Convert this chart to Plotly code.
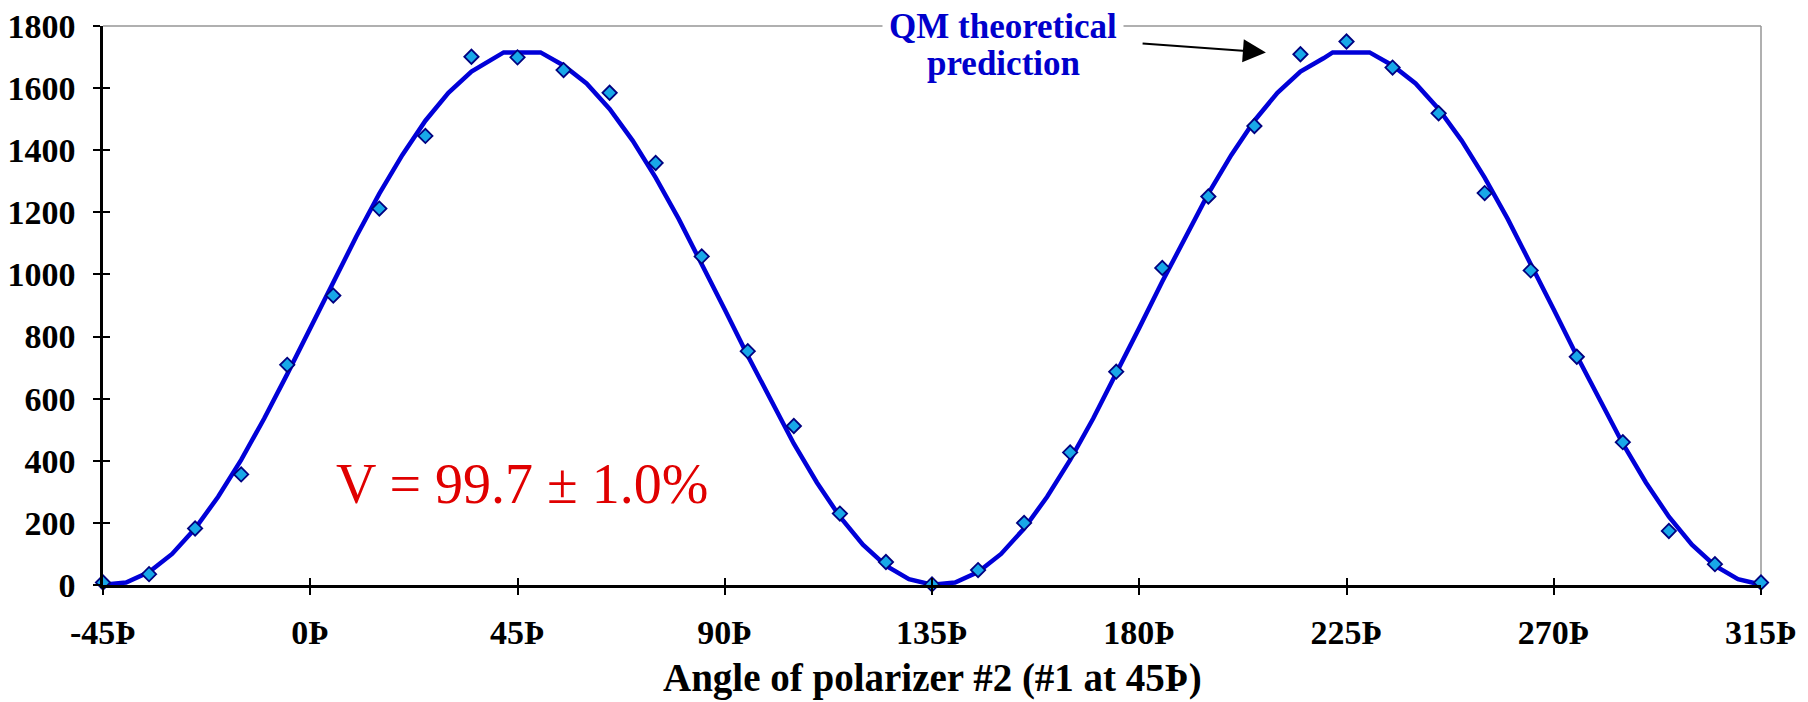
import plotly.graph_objects as go

# Measured coincidence counts (every 10 degrees)
angles = [-45, -35, -25, -15, -5, 5, 15, 25, 35, 45, 55, 65, 75, 85, 95, 105, 115, 125,
          135, 145, 155, 165, 175, 185, 195, 205, 215, 225, 235, 245, 255, 265, 275, 285,
          295, 305, 315]
counts = [8, 35, 182, 356, 709, 932, 1212, 1446, 1701, 1699, 1658, 1585, 1359, 1058, 753,
          512, 230, 74, 2, 48, 200, 427, 687, 1021, 1251, 1478, 1709, 1750, 1666, 1519,
          1262, 1013, 735, 460, 174, 67, 8]

# QM theoretical prediction curve (vertices)
theory_angles = [-45, -40, -35, -30, -25, -20, -15, -10, -5, 0, 5, 10, 15, 20, 25, 30, 35,
                 40, 42, 50, 55, 60, 65, 70, 75, 80, 85, 90, 95, 100, 105, 110, 115, 120,
                 125, 130, 135, 140, 145, 150, 155, 160, 165, 170, 175, 180, 185, 190, 195,
                 200, 205, 210, 215, 220, 222, 230, 235, 240, 245, 250, 255, 260, 265, 270,
                 275, 280, 285, 290, 295, 300, 305, 310, 315]
theory_counts = [1, 8, 42, 100, 182, 284, 403, 536, 679, 828, 977, 1122, 1260, 1385, 1495,
                 1585, 1653, 1696, 1715, 1715, 1673, 1615, 1533, 1431, 1312, 1179, 1036,
                 887, 738, 593, 455, 330, 220, 130, 62, 19, 1, 8, 42, 100, 182, 284, 403,
                 536, 679, 828, 977, 1122, 1260, 1385, 1495, 1585, 1653, 1696, 1715, 1715,
                 1673, 1615, 1533, 1431, 1312, 1179, 1036, 887, 738, 593, 455, 330, 220,
                 130, 62, 19, 1]

x_tickvals = [-45, 0, 45, 90, 135, 180, 225, 270, 315]
x_ticktext = ["-45Þ", "0Þ", "45Þ", "90Þ", "135Þ", "180Þ", "225Þ", "270Þ", "315Þ"]
y_tickvals = [0, 200, 400, 600, 800, 1000, 1200, 1400, 1600, 1800]

x_title = "Angle of polarizer #2 (#1 at 45Þ)"
qm_line1 = "QM theoretical"
qm_line2 = "prediction"
visibility_text = "V = 99.7 ± 1.0%"

FONT = "Liberation Serif, Times New Roman, serif"
XR = [-45, 315]
YR = [0, 1800]

fig = go.Figure()
fig.add_trace(go.Scatter(x=theory_angles, y=theory_counts, mode="lines",
                         line=dict(color="#0000D8", width=4.5), hoverinfo="skip",
                         showlegend=False))
fig.add_trace(go.Scatter(x=angles, y=counts, mode="markers",
                         marker=dict(symbol="diamond", size=11, color="#18A8E8",
                                     line=dict(color="#000080", width=1.8)),
                         showlegend=False, cliponaxis=False))
# invisible trace for the overlay axes (inner half of crossing ticks)
fig.add_trace(go.Scatter(x=angles, y=counts, mode="markers", xaxis="x2", yaxis="y2",
                         marker=dict(opacity=0), hoverinfo="skip", showlegend=False))

tickfont = dict(family=FONT, size=34, color="black", weight="bold")
fig.update_layout(
    width=1800, height=694,
    margin=dict(l=95, r=47, t=18, b=117, autoexpand=False),
    paper_bgcolor="white", plot_bgcolor="white",
    xaxis=dict(range=XR, tickvals=x_tickvals, ticktext=x_ticktext, ticks="outside",
               ticklen=7, tickwidth=2, tickcolor="black", showline=True,
               linecolor="black", linewidth=2.5, showgrid=False, zeroline=False,
               tickfont=tickfont, ticklabelstandoff=8, ticklabeloverflow="allow",
               automargin=False),
    yaxis=dict(range=YR, tickvals=y_tickvals, ticks="outside", ticklen=7, tickwidth=2,
               tickcolor="black", showline=True, linecolor="black", linewidth=2.5,
               showgrid=False, zeroline=False, tickfont=tickfont, ticklabelstandoff=11,
               ticklabeloverflow="allow", automargin=False),
    xaxis2=dict(range=XR, overlaying="x", anchor="y", tickvals=x_tickvals, ticks="inside",
                ticklen=7, tickwidth=2, tickcolor="black", showticklabels=False,
                showline=False, showgrid=False, zeroline=False, automargin=False),
    yaxis2=dict(range=YR, overlaying="y", anchor="x", tickvals=y_tickvals, ticks="inside",
                ticklen=7, tickwidth=2, tickcolor="black", showticklabels=False,
                showline=False, showgrid=False, zeroline=False, automargin=False),
    showlegend=False,
)

# gray plot-area border on top and right
fig.add_shape(type="line", xref="paper", yref="paper", x0=0, x1=1, y0=1, y1=1,
              line=dict(color="#969696", width=1.5), layer="below")
fig.add_shape(type="line", xref="paper", yref="paper", x0=1, x1=1, y0=0, y1=1,
              line=dict(color="#969696", width=1.5), layer="below")

fig.add_annotation(x=150.5, y=0.999, xref="x", yref="paper", text="<b>%s</b>" % qm_line1,
                   showarrow=False, font=dict(family=FONT, size=35, color="#0000CC"),
                   bgcolor="white", borderpad=6, xanchor="center", yanchor="middle")
fig.add_annotation(x=150.5, y=1680, xref="x", yref="y", text="<b>%s</b>" % qm_line2,
                   showarrow=False, font=dict(family=FONT, size=35, color="#0000CC"),
                   xanchor="center", yanchor="middle")
fig.add_annotation(x=207.5, y=1715, ax=180.4, ay=1744, xref="x", yref="y", axref="x",
                   ayref="y", text="", showarrow=True, arrowhead=2, arrowsize=2.3,
                   arrowwidth=2, arrowcolor="black")
fig.add_annotation(x=46, y=325, xref="x", yref="y", text=visibility_text, showarrow=False,
                   font=dict(family=FONT, size=56, color="#E00000"),
                   xanchor="center", yanchor="middle")
fig.add_annotation(x=0.5, y=-0.167, xref="paper", yref="paper", text="<b>%s</b>" % x_title,
                   showarrow=False, font=dict(family=FONT, size=39, color="black"),
                   xanchor="center", yanchor="middle")

fig.write_html("out.html")
